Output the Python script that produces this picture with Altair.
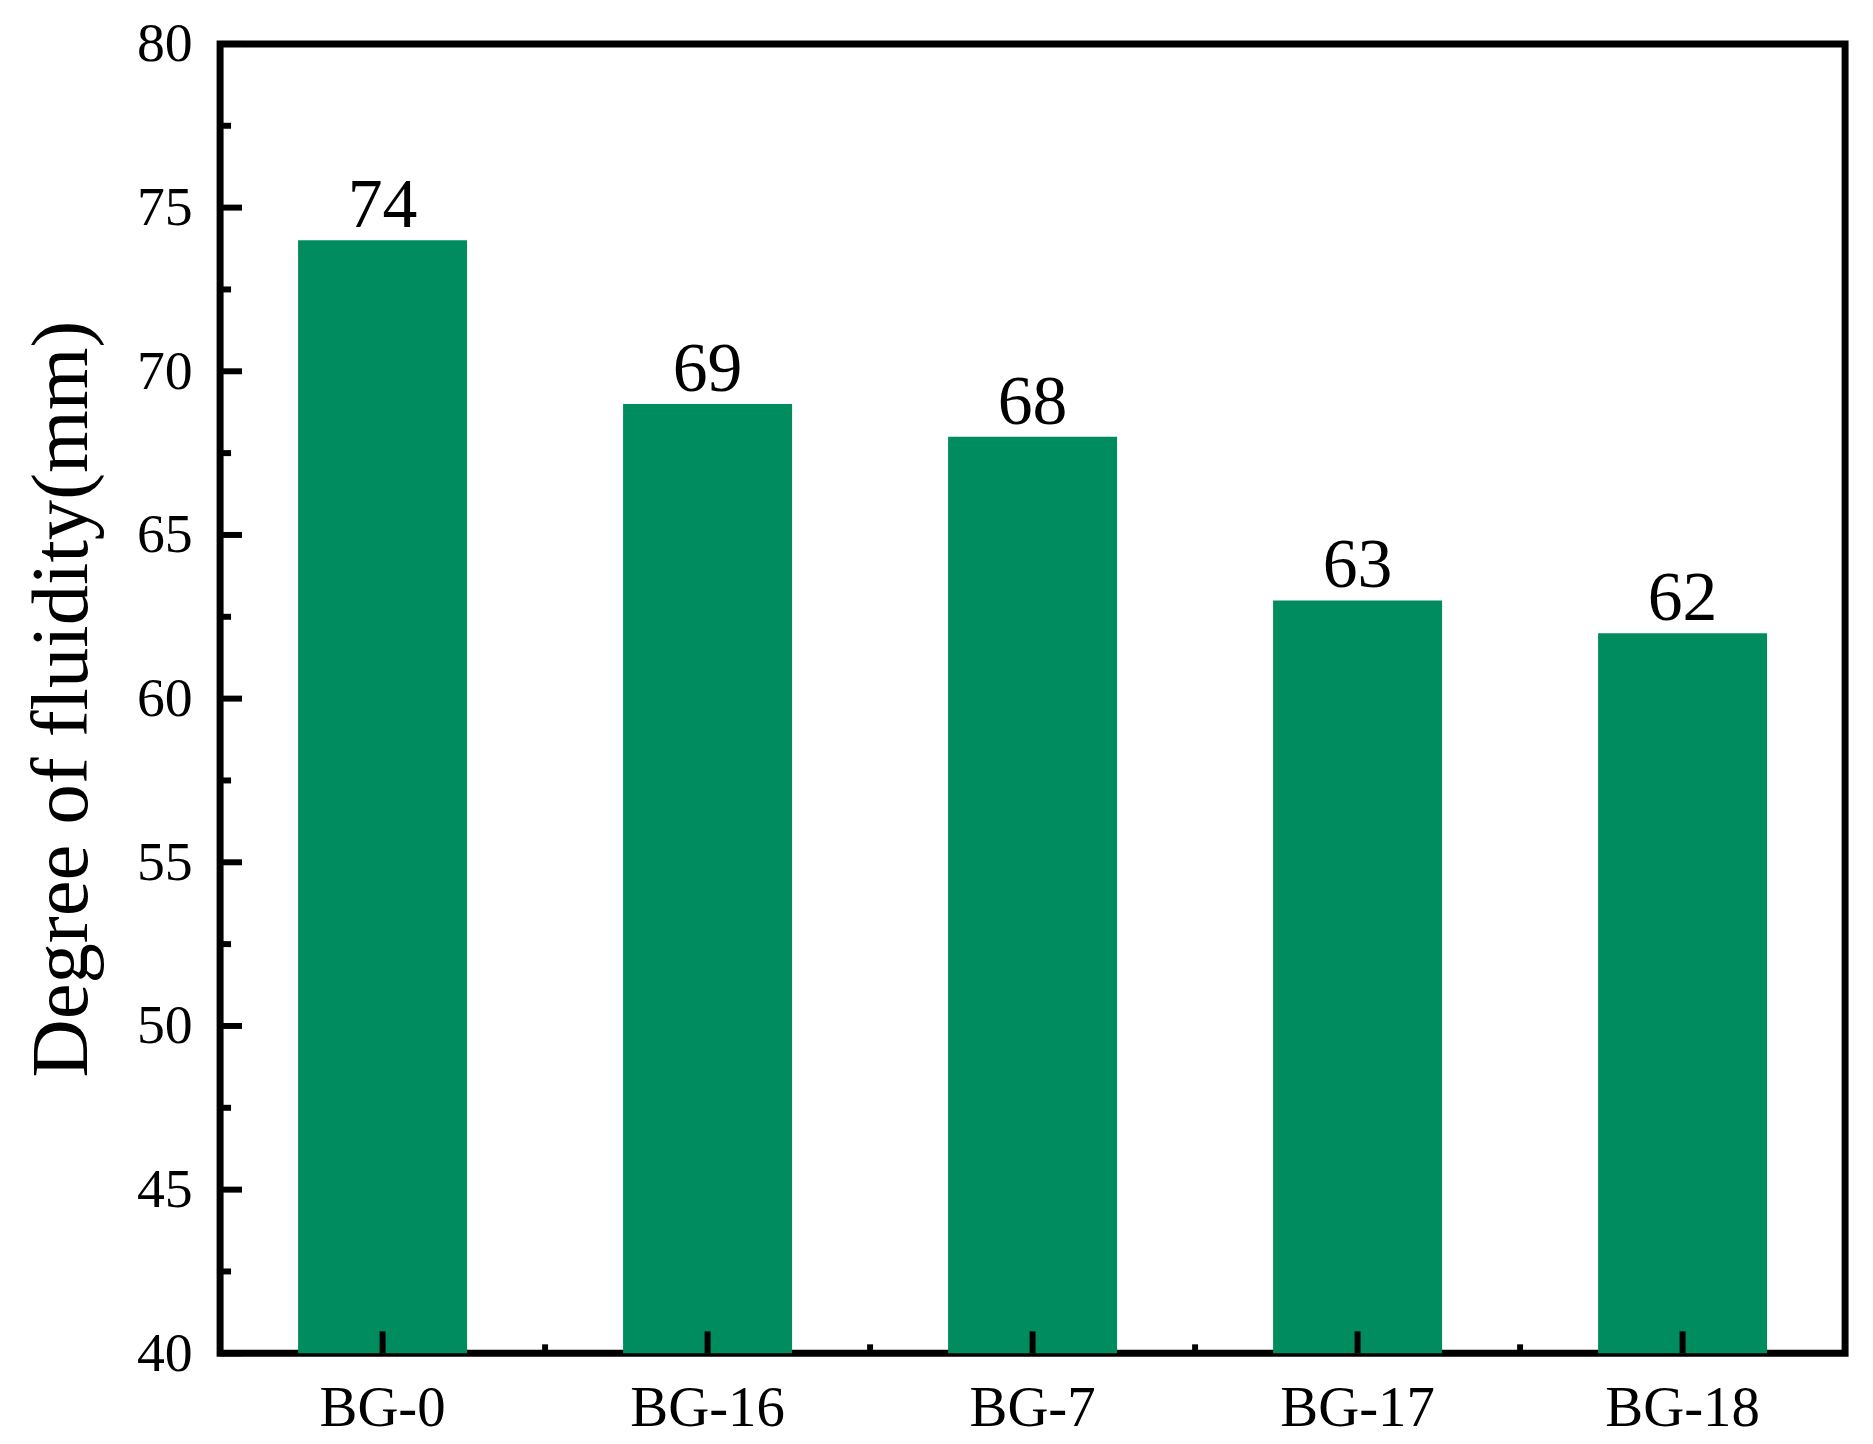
import altair as alt
import pandas as pd

categories = ["BG-0", "BG-16", "BG-7", "BG-17", "BG-18"]
values = [74, 69, 68, 63, 62]
y_major = [40, 45, 50, 55, 60, 65, 70, 75, 80]
y_minor = [42.5, 47.5, 52.5, 57.5, 62.5, 67.5, 72.5, 77.5]
x_minor = [1, 2, 3, 4]

W, H = 1632, 1315
FONT = "Times New Roman, Liberation Serif, Tinos, Nimbus Roman, serif"
GREEN = "#008C5F"

df = pd.DataFrame({"cat": categories, "val": values})
df_ymaj = pd.DataFrame({"v": y_major})
df_ymin = pd.DataFrame({"v": y_minor})
df_xmin = pd.DataFrame({"b": x_minor})

xscale = alt.Scale(domain=categories, paddingInner=0.48, paddingOuter=0.24)
yscale = alt.Scale(domain=[40, 80], nice=False, zero=False)

base = alt.Chart(df)

bars = base.mark_bar(color=GREEN, clip=True).encode(
    x=alt.X("cat:N", scale=xscale, sort=categories,
            axis=alt.Axis(title=None, labelAngle=0, ticks=False, domain=False,
                          labelFont=FONT, labelFontSize=57, labelColor="black",
                          labelPadding=28)),
    y=alt.Y("val:Q", scale=yscale,
            axis=alt.Axis(title="Degree of fluidity(mm)", values=y_major,
                          ticks=False, domain=False, grid=False,
                          labelFont=FONT, labelFontSize=56, labelColor="black",
                          labelPadding=28, titleFont=FONT, titleFontSize=81,
                          titleFontWeight="normal", titleColor="black",
                          titlePadding=33)),
)

labels = base.mark_text(font=FONT, fontSize=70, color="black",
                        baseline="alphabetic", dy=-13).encode(
    x=alt.X("cat:N", scale=xscale, sort=categories),
    y=alt.Y("val:Q", scale=yscale),
    text=alt.Text("val:Q"),
)

xmaj = base.mark_rule(color="black", strokeWidth=6).encode(
    x=alt.X("cat:N", scale=xscale, sort=categories),
    y=alt.value(H), y2=alt.value(H - 22),
)

ymaj = alt.Chart(df_ymaj).mark_rule(color="black", strokeWidth=6).encode(
    y=alt.Y("v:Q", scale=yscale), x=alt.value(0), x2=alt.value(22),
)
ymin = alt.Chart(df_ymin).mark_rule(color="black", strokeWidth=6).encode(
    y=alt.Y("v:Q", scale=yscale), x=alt.value(0), x2=alt.value(11),
)

xmin = alt.Chart(df_xmin).mark_rule(color="black", strokeWidth=6).encode(
    x=alt.X("b:Q", scale=alt.Scale(domain=[0, 5], nice=False, zero=False), axis=None),
    y=alt.value(H), y2=alt.value(H - 9),
)

main = alt.layer(bars, labels, xmaj, ymaj, ymin)
chart = alt.layer(main, xmin).resolve_scale(x="independent").properties(
    width=W, height=H,
    background="white",
    autosize=alt.AutoSizeParams(type="none"),
    padding={"left": 213, "top": 33, "right": 20, "bottom": 88},
).configure_view(stroke="black", strokeWidth=7)

chart.save("out.html", embed_options={"renderer": "svg", "actions": False})
